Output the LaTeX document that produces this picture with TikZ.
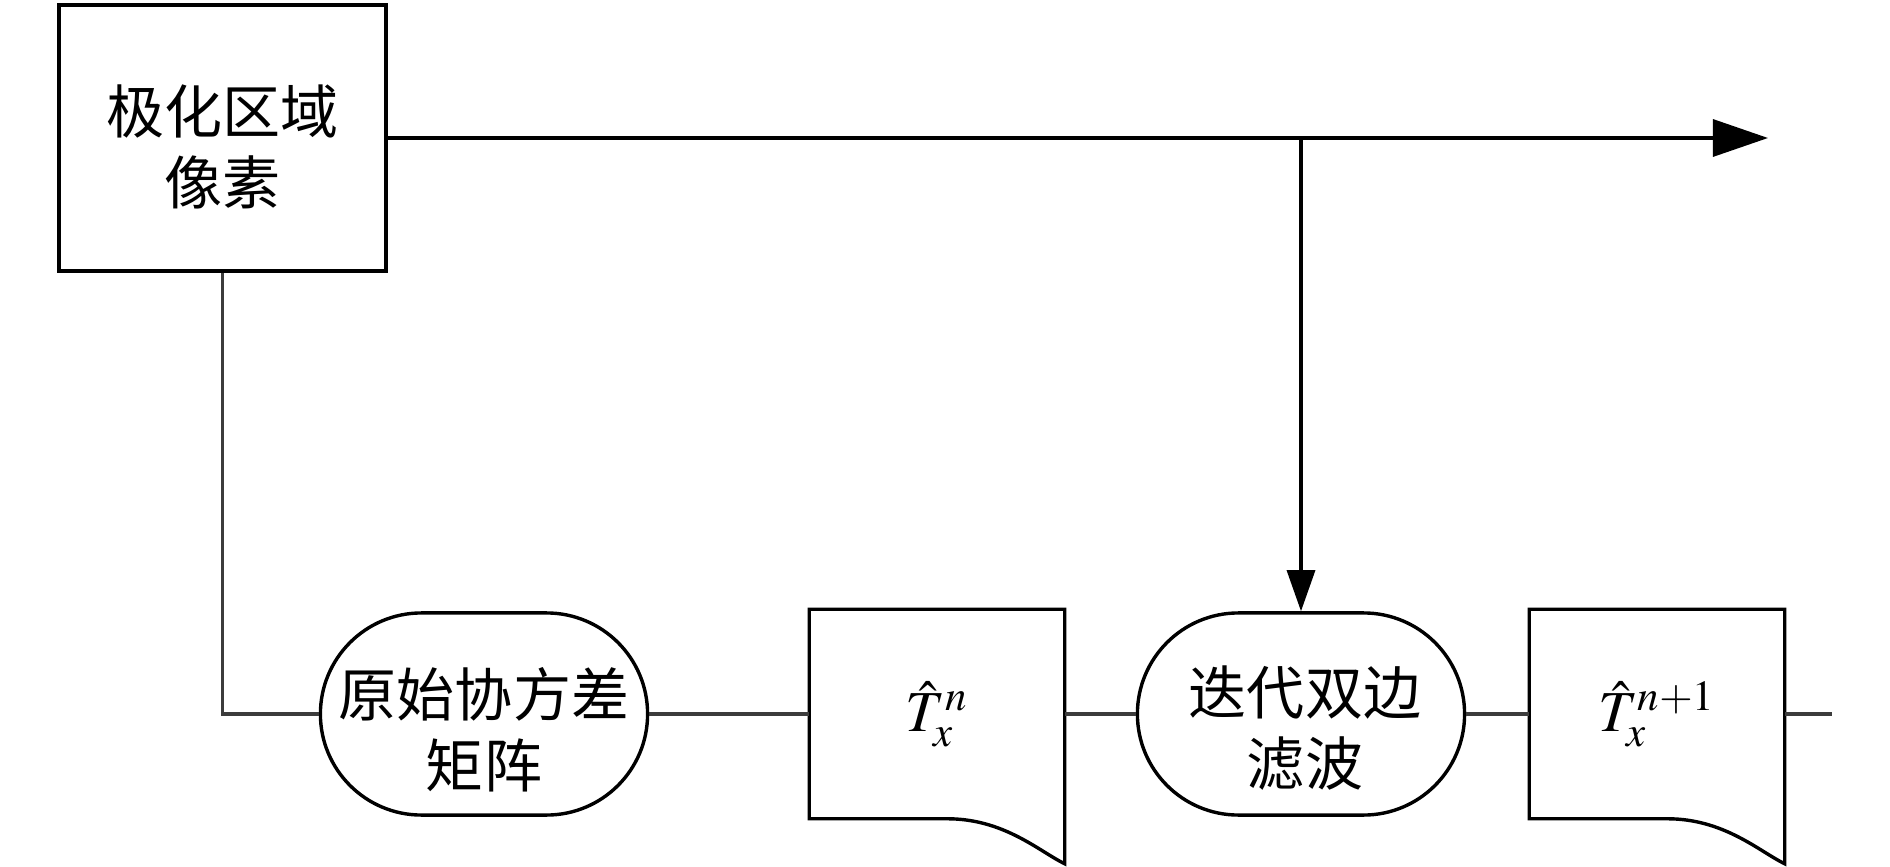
\documentclass[tikz,border=0pt]{standalone}
\usepackage{mathptmx}
\usepackage{fontspec}
\newfontfamily\cjk{Noto Sans CJK SC}
\usetikzlibrary{arrows.meta,shapes.misc,calc}
\definecolor{conn}{HTML}{3C3C3C}
\begin{document}
\begin{tikzpicture}[x=0.01cm,y=-0.01cm,
  shapeline/.style={draw=black, line width=0.034cm},
  rectbox/.style={shapeline, rectangle, minimum width=3.27cm, minimum height=2.66cm, inner sep=0pt},
  termbox/.style={shapeline, rounded rectangle, minimum width=3.27cm, minimum height=2.02cm, inner sep=0pt},
  docbox/.style={rectangle, minimum width=2.54cm, minimum height=2.08cm, inner sep=0pt, font=\fontsize{16.5}{20}\selectfont},
  lbl/.style={font=\cjk\fontsize{16.5}{20.3}\selectfont, align=center, inner sep=0pt},
  link/.style={draw=conn, line width=0.034cm},
  bigarrow/.style={draw=black, line width=0.032cm, -{Triangle[length=0.55cm,width=0.37cm]}},
  smallarrow/.style={draw=black, line width=0.032cm, -{Triangle[length=0.41cm,width=0.28cm]}}
]
\useasboundingbox (0,0) rectangle (1890,867);

% nodes
\node[rectbox] (b) at (222.5,138) {};
\node[lbl] (btext) at (222.5,147) {极化区域\\像素};

\node[termbox] (t1) at (484,714) {};
\node[lbl] (t1text) at (484,730) {原始协方差\\矩阵};

\node[docbox] (d1) at (937,714) {$\hat{T}_x^{n}$};

\node[termbox] (t2) at (1301,714) {};
\node[lbl] (t2text) at (1305,728) {迭代双边\\滤波};

\node[docbox] (d2) at (1657,714) {$\hat{T}_x^{n+1}$};

\coordinate (out) at (1832,714);
\coordinate (top) at (1768,138);
\coordinate (j) at (t2 |- b.east);

% document shapes
\foreach \d in {d1,d2}{
  \draw[shapeline] (\d.north west) -- (\d.north east)
    -- ($(\d.south east)+(0,-0.45cm)$)
    .. controls ($(\d.south east)+(-0.25cm,-0.33cm)$) and ($(\d.south west)+(1.95cm,0)$)
    .. ($(\d.south west)+(1.38cm,0)$) -- (\d.south west) -- cycle;
}

% connectors
\draw[link] (b.south) |- (t1.west);
\draw[link] (t1.east) -- (d1.west);
\draw[link] (d1.east) -- (t2.west);
\draw[link] (t2.east) -- (d2.west);
\draw[link] (d2.east) -- (out);
\draw[bigarrow] (b.east) -- (top);
\draw[smallarrow] (j) -- (t2.north);
\end{tikzpicture}
\end{document}
